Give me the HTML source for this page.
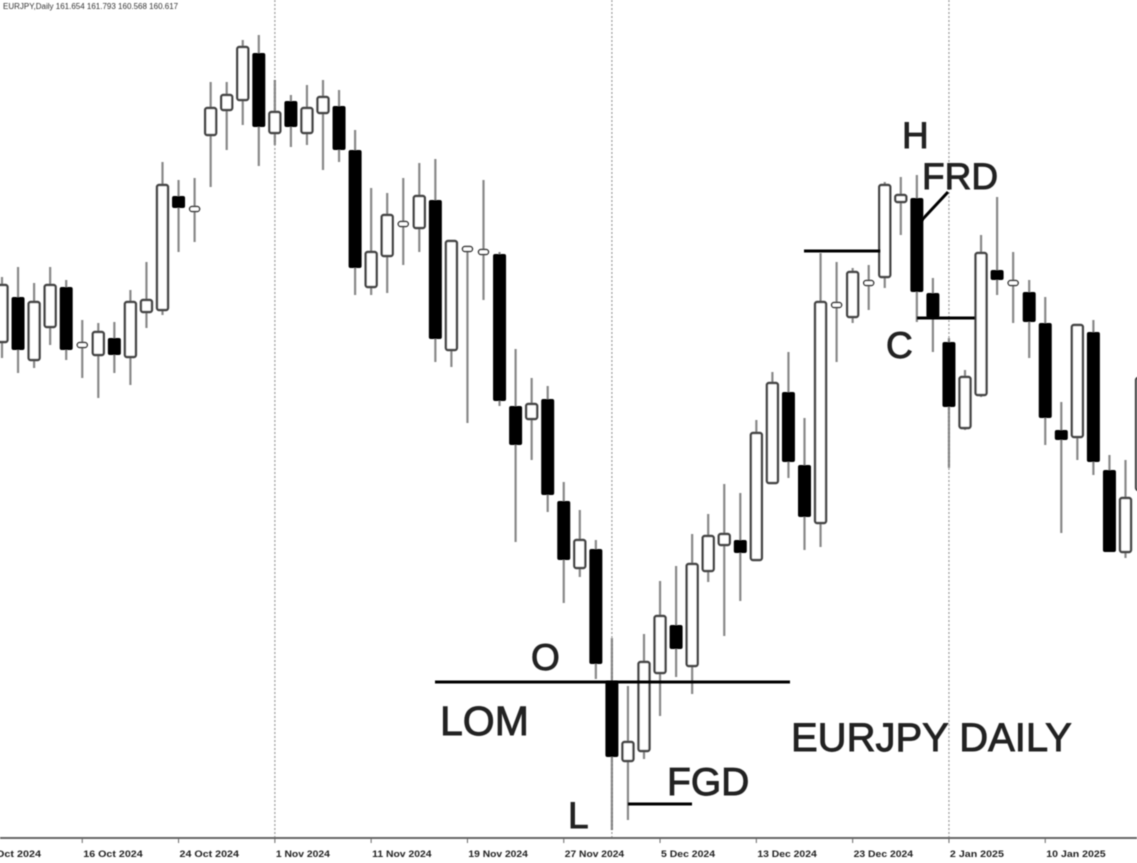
<!DOCTYPE html>
<html><head><meta charset="utf-8"><style>
html,body{margin:0;padding:0;background:#fff;}
svg{display:block;font-family:"Liberation Sans",Arial,sans-serif;}
</style></head><body>
<svg id="chart" width="1137" height="863" viewBox="0 0 1137 863">
<defs><filter id="soft"><feGaussianBlur stdDeviation="0.6"/></filter></defs>
<rect width="1137" height="863" fill="#fff"/>
<g id="grid" filter="url(#soft)"></g>
<g id="candles" filter="url(#soft)"></g>
<g id="notes" filter="url(#soft)" stroke="#222" stroke-width="0.9">
<text x="3" y="9" font-size="8" fill="#333" stroke="none">EURJPY,Daily  161.654 161.793 160.568 160.617</text>
<line x1="435" y1="682" x2="790" y2="682" stroke="#000" stroke-width="3"/>
<text x="531" y="670" font-size="37" fill="#222">O</text>
<text x="440" y="735" font-size="41" fill="#222">LOM</text>
<text x="568" y="828" font-size="37" fill="#222">L</text>
<text x="667" y="795" font-size="39" fill="#222">FGD</text>
<line x1="628" y1="804" x2="692" y2="804" stroke="#000" stroke-width="3"/>
<text x="791" y="751" font-size="40" fill="#222">EURJPY DAILY</text>
<text x="902" y="148" font-size="37" fill="#222">H</text>
<text x="922" y="189" font-size="37" fill="#222">FRD</text>
<line x1="920" y1="222" x2="948" y2="192" stroke="#000" stroke-width="3"/>
<line x1="804" y1="251" x2="880" y2="251" stroke="#000" stroke-width="3"/>
<line x1="917" y1="318" x2="975" y2="318" stroke="#000" stroke-width="3"/>
<text x="886" y="358" font-size="37" fill="#222">C</text>
</g>
</svg>
<script>
const opens =[160.58,161.03,160.40,160.73,161.13,160.55,160.45,160.62,160.43,160.88,160.90,162.04,161.91,162.65,162.90,163.00,163.47,162.67,162.99,162.67,162.87,162.94,162.50,161.13,161.44,161.76,161.72,162.00,160.50,161.51,161.48,161.46,159.94,159.81,160.01,158.99,158.32,158.51,157.19,156.39,156.49,157.27,157.75,157.34,158.29,158.55,158.60,158.40,159.17,160.08,159.35,158.77,160.95,160.83,161.17,161.23,161.98,162.02,161.07,160.58,159.72,160.05,161.30,161.17,161.08,160.77,159.70,159.63,160.68,159.30,158.48,159.10];
const highs =[161.23,161.33,161.17,161.33,161.20,160.80,160.77,160.78,161.10,161.38,162.38,162.20,162.22,163.18,163.18,163.60,163.65,163.20,163.05,163.15,163.20,163.10,162.70,162.12,162.07,162.22,162.37,162.41,161.59,161.51,162.20,161.48,160.51,160.22,160.14,159.18,158.90,158.60,157.62,157.14,157.66,158.19,158.34,158.66,158.86,159.16,159.07,159.80,160.28,160.48,159.82,161.47,161.38,161.32,161.35,162.18,162.23,162.25,161.22,160.62,160.30,161.65,162.03,161.48,161.20,161.03,159.98,160.75,160.80,159.45,159.40,160.28];
const lows  =[160.42,160.27,160.32,160.55,160.40,160.22,160.02,160.27,160.15,160.72,160.85,161.48,161.58,162.13,162.50,162.75,162.34,162.55,162.53,162.55,162.30,162.38,161.05,161.05,161.07,161.35,161.48,160.38,160.33,159.77,161.00,159.94,158.58,159.40,158.88,157.97,158.23,157.21,155.70,155.80,156.41,156.84,157.23,157.06,158.18,157.64,157.99,158.40,159.17,159.22,158.50,158.53,160.38,160.77,160.90,161.12,161.65,160.78,160.48,159.32,159.70,160.03,161.05,160.77,160.42,159.55,158.67,159.40,159.25,158.48,158.42,159.00];
const closes=[161.15,160.50,160.98,161.15,160.50,160.55,160.68,160.45,160.98,161.00,162.15,161.92,161.91,162.92,163.05,163.53,162.73,162.88,162.73,162.92,163.03,162.50,161.32,161.48,161.85,161.76,162.04,160.61,161.59,161.51,161.48,159.99,159.55,159.96,159.05,158.40,158.60,157.36,156.43,156.58,157.38,157.84,157.51,158.36,158.64,158.66,158.47,159.67,160.17,159.38,158.83,160.98,160.95,161.28,161.17,162.15,162.05,161.08,160.82,159.93,160.23,161.47,161.20,161.17,160.78,159.82,159.60,160.75,159.38,158.48,159.02,160.22];
const dateLabels=["8 Oct 2024","16 Oct 2024","24 Oct 2024","1 Nov 2024","11 Nov 2024","19 Nov 2024","27 Nov 2024","5 Dec 2024","13 Dec 2024","23 Dec 2024","2 Jan 2025","10 Jan 2025"];
const dateIdx=[-1,5,11,17,23,29,35,41,47,53,59,65];
const separatorIdx=[17,38,59];

const NS="http://www.w3.org/2000/svg";
function xOf(i){return 2+i*16.05;}
function yOf(p){return (164-p)*100;}
function mk(tag,attrs,parent){const e=document.createElementNS(NS,tag);for(const k in attrs)e.setAttribute(k,attrs[k]);parent.appendChild(e);return e;}
const grid=document.getElementById('grid');
const cg=document.getElementById('candles');

separatorIdx.forEach(function(i){
  const l=mk('line',{x1:xOf(i),y1:0,x2:xOf(i),y2:838,stroke:'#999','stroke-width':1.2,'stroke-dasharray':'2,2'},grid);
  
  
});
const ax=mk('line',{x1:0,y1:838,x2:1137,y2:838,stroke:'#666','stroke-width':2},grid);


dateLabels.forEach(function(t,k){
  const x=xOf(dateIdx[k]);
  const tk=mk('line',{x1:x,y1:838,x2:x,y2:843,stroke:'#666','stroke-width':1},grid);
  
  
  const tx=mk('text',{x:x+1,y:857,'font-size':9,fill:'#222','font-weight':'bold',textLength:t.length*5.4,lengthAdjust:'spacingAndGlyphs'},grid);
  tx.textContent=t;
  
  
});

for(let i=0;i<opens.length;i++){
  const x=xOf(i),o=opens[i],c=closes[i],h=highs[i],lo=lows[i];
  const g=mk('g',{},cg);
  
  
  const w=mk('line',{x1:x,y1:yOf(h),x2:x,y2:yOf(lo),stroke:'#888','stroke-width':2.2},g);
  
  
  const top=yOf(Math.max(o,c)),bot=yOf(Math.min(o,c));
  let b;
  if(bot-top<3){
    b=mk('rect',{x:x-5,y:top-2.5,width:10,height:5,rx:2.5,fill:c<o?'#000':'#fff',stroke:'#333','stroke-width':1.5},g);
  } else if(c>=o){
    b=mk('rect',{x:x-5.5,y:top,width:11,height:bot-top,rx:2,fill:'#fff',stroke:'#444','stroke-width':2.4},g);
  } else {
    b=mk('rect',{x:x-6.5,y:top,width:13,height:bot-top,rx:2,fill:'#000'},g);
  }
  
  
}
</script>
</body></html>
